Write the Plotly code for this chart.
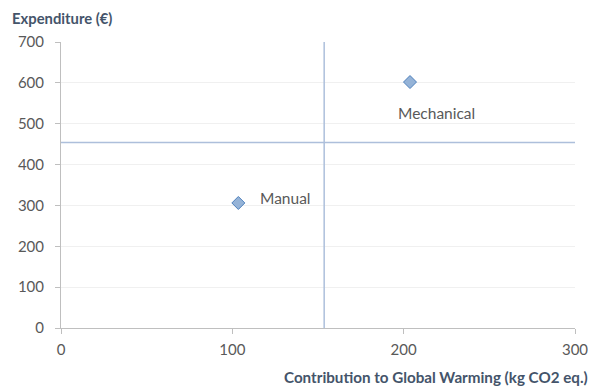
import plotly.graph_objects as go

names = ["Manual", "Mechanical"]
gw = [103.5, 203.7]          # kg CO2 eq.
cost = [306, 602]            # €
x_split = 153.6
y_split = 454
x_ticks = [0, 100, 200, 300]
y_ticks = [0, 100, 200, 300, 400, 500, 600, 700]

FONT = "Lato, 'Open Sans', sans-serif"
TXT = "#595959"
TITLE = "#44546A"

# page body has an 8px margin; compensate
W, H = 588, 384
L, R, T, B = 53, 21, 34, 64
PW, PH = W - L - R, H - T - B

fig = go.Figure()
fig.add_trace(go.Scatter(
    x=gw, y=cost, mode="markers",
    marker=dict(symbol="diamond", size=10, color="#95B3D7",
                line=dict(color="#4F81BD", width=1)),
    hoverinfo="skip", showlegend=False,
))

fig.add_annotation(x=gw[0], y=cost[0], text=names[0], showarrow=False,
                   xanchor="left", yanchor="middle", xshift=20, yshift=5,
                   font=dict(family=FONT, size=15.5, color=TXT))
fig.add_annotation(x=gw[1], y=cost[1], text=names[1], showarrow=False,
                   xanchor="center", yanchor="middle", xshift=26, yshift=-31,
                   font=dict(family=FONT, size=15.5, color=TXT))

fig.add_shape(type="line", xref="x", yref="y", x0=x_split, x1=x_split, y0=0, y1=700,
              line=dict(color="#ADBFDB", width=1.5), layer="above")
fig.add_shape(type="line", xref="x", yref="y", x0=0, x1=300, y0=y_split, y1=y_split,
              line=dict(color="#ADBFDB", width=1.5), layer="above")

fig.add_annotation(xref="paper", yref="paper", x=(-L + 3) / PW, y=1 + T / PH,
                   text="<b>Expenditure (€)</b>", showarrow=False,
                   xanchor="left", yanchor="top", borderpad=0,
                   font=dict(family=FONT, size=14.8, color=TITLE))
fig.add_annotation(xref="paper", yref="paper", x=1 + 15 / PW, y=-(B - 4) / PH,
                   text="<b>Contribution to Global Warming (kg CO2 eq.)</b>", showarrow=False,
                   xanchor="right", yanchor="bottom",
                   font=dict(family=FONT, size=15.2, color=TITLE))

fig.update_xaxes(range=[0, 300], tickvals=x_ticks, showgrid=False, zeroline=False,
                 showline=True, linecolor="#BFBFBF", linewidth=1,
                 ticks="outside", ticklen=5, tickcolor="#BFBFBF", ticklabelstandoff=3,
                 tickfont=dict(family=FONT, size=15, color=TXT), fixedrange=True)
fig.update_yaxes(range=[0, 700], tickvals=y_ticks, showgrid=True, gridcolor="#F0F0F0",
                 zeroline=False, showline=True, linecolor="#BFBFBF", linewidth=1,
                 ticks="outside", ticklen=5, tickcolor="#BFBFBF", ticklabelstandoff=8,
                 tickfont=dict(family=FONT, size=15, color=TXT), fixedrange=True)

fig.update_layout(width=W, height=H, margin=dict(l=L, r=R, t=T, b=B, autoexpand=False),
                  plot_bgcolor="white", paper_bgcolor="white")

fig.write_html("out.html")
